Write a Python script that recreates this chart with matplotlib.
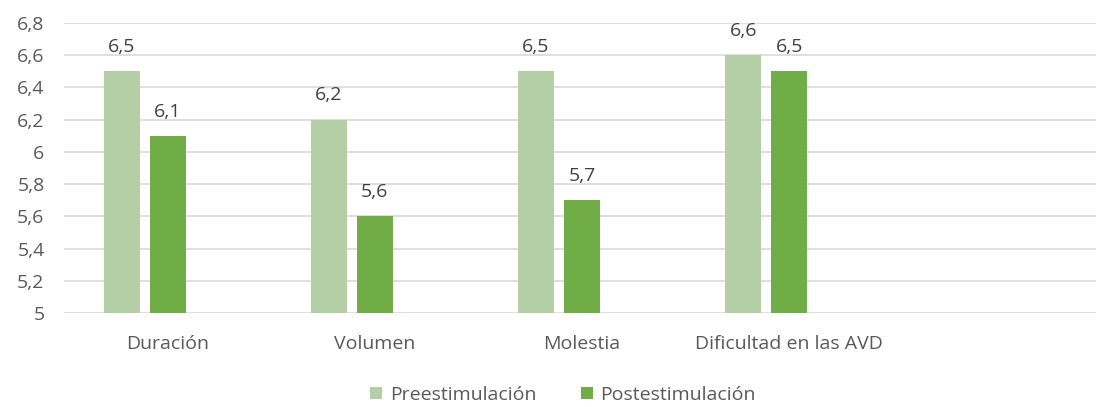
import matplotlib
matplotlib.use("Agg")
import matplotlib.pyplot as plt
import numpy as np

categories = ["Duración", "Volumen", "Molestia", "Dificultad en las AVD", ""]
pre = [6.5, 6.2, 6.5, 6.6]
post = [6.1, 5.6, 5.7, 6.5]
series_names = ["Preestimulación", "Postestimulación"]
yticks = [5, 5.2, 5.4, 5.6, 5.8, 6, 6.2, 6.4, 6.6, 6.8]
ytick_labels = ["5", "5,2", "5,4", "5,6", "5,8", "6", "6,2", "6,4", "6,6", "6,8"]

plt.rcParams['font.family'] = ['Open Sans', 'DejaVu Sans']
txt = "#595959"
c_pre = "#b4cea6"
c_post = "#70ad47"
fs = 14

fig = plt.figure(figsize=(10.96, 4.07), dpi=100)
ax = fig.add_axes([64/1096, 1-313/407, 1036/1096, (313-23)/407])

x = np.arange(len(pre))
w = 0.173
off = 0.222
b1 = ax.bar(x - off, [v - 5 for v in pre], w, bottom=5, color=c_pre, label=series_names[0], zorder=3)
b2 = ax.bar(x, [v - 5 for v in post], w, bottom=5, color=c_post, label=series_names[1], zorder=3)

for xi, v in zip(x - off, pre):
    ax.annotate(f"{v:.1f}".replace(".", ","), (xi, v), xytext=(0, 11), textcoords="offset points",
                ha="center", va="bottom", fontsize=fs, color="#404040")
for xi, v in zip(x, post):
    ax.annotate(f"{v:.1f}".replace(".", ","), (xi, v), xytext=(0, 11), textcoords="offset points",
                ha="center", va="bottom", fontsize=fs, color="#404040")

ax.set_xlim(-0.5, len(categories) - 0.5)
ax.set_ylim(5, 6.8)
ax.set_yticks(yticks)
ax.set_yticklabels(ytick_labels)
ax.set_xticks(np.arange(len(categories)))
ax.set_xticklabels(categories)
ax.tick_params(axis="both", length=0, labelsize=fs, colors=txt)
ax.tick_params(axis="x", pad=16)
ax.tick_params(axis="y", pad=14)
ax.yaxis.grid(True, color="#d9d9d9", linewidth=1.2, zorder=0)
for s in ax.spines.values():
    s.set_visible(False)

fig.legend(handles=[b1, b2], labels=series_names, loc="center", bbox_to_anchor=(563/1096, 1-395/407),
           ncol=2, frameon=False, fontsize=fs, labelcolor=txt, handlelength=0.6, handleheight=0.6,
           handletextpad=0.4, columnspacing=2.3)

fig.savefig("out.png", dpi=100)
